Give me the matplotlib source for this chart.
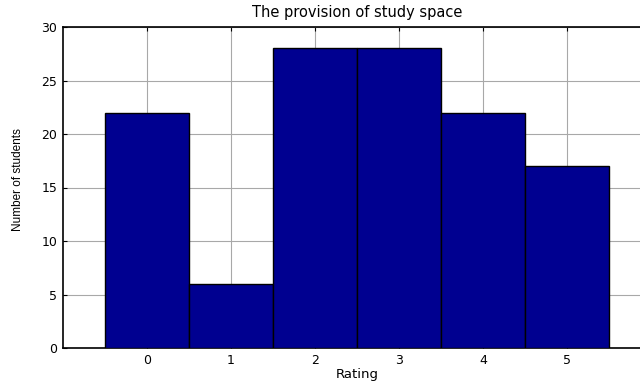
import matplotlib
matplotlib.use("Agg")
import matplotlib.pyplot as plt

ratings = [0, 1, 2, 3, 4, 5]
counts = [22, 6, 28, 28, 22, 17]
yticks = [0, 5, 10, 15, 20, 25, 30]

plt.rcParams['font.family'] = ['DejaVu Sans']

fig = plt.figure(figsize=(6.4, 3.83), dpi=100)
# axes runs past the right edge of the image, like the cropped original
ax = fig.add_axes([63 / 640, 1 - 348 / 383, (651 - 63) / 640, (348 - 27) / 383])

ax.bar(ratings, counts, width=1.0, color='#000090', edgecolor='black',
       linewidth=1.0, zorder=3)

ax.set_xlim(-1, 6)
ax.set_ylim(0, 30)
ax.set_xticks(ratings)
ax.set_yticks(yticks)
ax.grid(True, color='#a8a8a8', linewidth=0.8, zorder=0)
ax.set_axisbelow(True)

ax.tick_params(direction='in', length=3, width=0.8, labelsize=9,
               top=True, right=False, pad=4)
for side in ['left', 'bottom', 'top']:
    ax.spines[side].set_linewidth(1.2)
ax.spines['right'].set_visible(False)

ax.set_title('The provision of study space', fontsize=10.5, pad=7)
ax.set_xlabel('Rating', fontsize=9.5, labelpad=1)
ax.set_ylabel('Number of students', fontsize=8.5,
              family=['Liberation Sans Narrow', 'Liberation Sans'])
ax.yaxis.set_label_coords(-0.066, 0.525)

fig.savefig('out.png', dpi=100)
